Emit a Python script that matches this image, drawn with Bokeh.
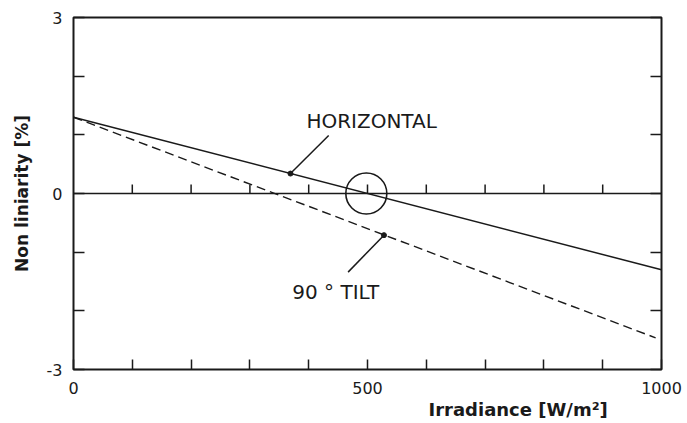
import math
from bokeh.plotting import figure
from bokeh.models import Range1d, FixedTicker, LinearAxis, Title
from bokeh.core.properties import value
from bokeh.embed import file_html
from bokeh.resources import INLINE

# ---- data ----
horiz_x = [0, 1000]
horiz_y = [1.3, -1.3]
tilt_x = [0, 990]
tilt_y = [1.3, -2.46]

x_ticks = [0, 100, 200, 300, 400, 500, 600, 700, 800, 900, 1000]
x_tick_labels = {0: "0", 500: "500", 1000: "1000"}
y_ticks = [-3, -2, -1, 0, 1, 2, 3]
y_tick_labels = {-3: "-3", 0: "0", 3: "3"}

ann_text = ["HORIZONTAL", "90 \u00b0 TILT"]
ann_x = [507, 446]
ann_y = [1.23, -1.68]
dot_x = [369, 528]
dot_y = [0.34, -0.71]
leader_x = [434, 467]
leader_y = [0.99, -1.34]
circle_x = [498]
circle_y = [0]

FONT = "DejaVu Sans"
INK = "#1a1a1a"

p = figure(width=686, height=422, output_backend="svg", toolbar_location=None,
           x_range=Range1d(0, 1000), y_range=Range1d(-3, 3),
           min_border_left=73, min_border_right=25, min_border_top=17, min_border_bottom=53,
           background_fill_color="white", border_fill_color="white")
p.grid.visible = False
p.outline_line_color = INK
p.outline_line_width = 2

# bottom axis
xa = p.xaxis[0]
xa.ticker = FixedTicker(ticks=x_ticks)
xa.major_label_overrides = {t: x_tick_labels.get(t, "") for t in x_ticks}
xa.major_tick_in = 10
xa.major_tick_out = 0
xa.minor_tick_in = 0
xa.minor_tick_out = 0
xa.major_tick_line_width = 1.5
xa.major_tick_line_color = INK
xa.axis_line_color = None
xa.major_label_standoff = 12
xa.major_label_text_font = FONT
xa.major_label_text_font_size = "16px"
xa.major_label_text_color = INK

# left axis
ya = p.yaxis[0]
ya.ticker = FixedTicker(ticks=y_ticks)
ya.major_label_overrides = {t: y_tick_labels.get(t, "") for t in y_ticks}
ya.major_tick_in = 11
ya.major_tick_out = 0
ya.minor_tick_in = 0
ya.minor_tick_out = 0
ya.major_tick_line_width = 1.5
ya.major_tick_line_color = INK
ya.axis_line_color = None
ya.major_label_standoff = 11
ya.major_label_text_font = FONT
ya.major_label_text_font_size = "16px"
ya.major_label_text_color = INK
ya.axis_label = "Non liniarity [%]"
ya.axis_label_text_font = FONT
ya.axis_label_text_font_size = "17px"
ya.axis_label_text_font_style = "bold"
ya.axis_label_text_color = INK
ya.axis_label_standoff = 12

# right axis (ticks only)
ra = LinearAxis(ticker=FixedTicker(ticks=y_ticks))
ra.major_label_overrides = {t: "" for t in y_ticks}
ra.major_label_text_font_size = "0px"
ra.major_tick_in = 11
ra.major_tick_out = 0
ra.minor_tick_in = 0
ra.minor_tick_out = 0
ra.major_tick_line_width = 1.5
ra.major_tick_line_color = INK
ra.axis_line_color = None
ra.major_label_standoff = 0
p.add_layout(ra, "right")

# x axis title, placed right of centre as in the reference
xtitle = Title(text="Irradiance [W/m\u00b2]", align="left", offset=355, standoff=0,
               text_font=FONT, text_font_size="18px", text_font_style="bold",
               text_color=INK)
p.add_layout(xtitle, "below")

# zero line with upward ticks
p.line(x=[0, 1000], y=[0, 0], line_color=INK, line_width=1.6)
p.ray(x=x_ticks[1:-1], y=[0] * (len(x_ticks) - 2), length=9, length_units="screen",
      angle=math.pi / 2, line_color=INK, line_width=1.5)

# series
p.line(x=horiz_x, y=horiz_y, line_color=INK, line_width=1.5)
p.line(x=tilt_x, y=tilt_y, line_color=INK, line_width=1.4, line_dash="9 5")

# annotations
p.segment(x0=dot_x, y0=dot_y, x1=leader_x, y1=leader_y, line_color=INK, line_width=1.5)
p.scatter(x=dot_x, y=dot_y, size=5, color=INK)
p.scatter(x=circle_x, y=circle_y, size=41, fill_color=None, line_color=INK, line_width=1.6)
p.text(x=ann_x, y=ann_y, text=ann_text, text_align="center", text_baseline="middle",
       text_font=value(FONT), text_font_size="20px", text_color=INK)

open("out.html", "w").write(file_html(p, INLINE))
